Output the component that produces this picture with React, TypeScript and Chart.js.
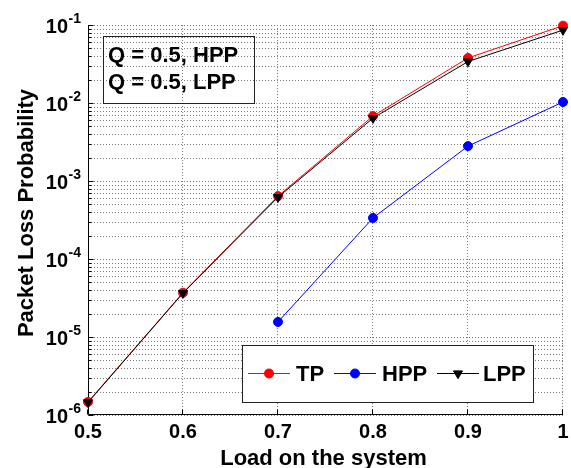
import { useEffect, useRef } from 'react';
import { Chart, registerables } from 'chart.js';

Chart.register(...registerables);

// ---- data ----
const loads = [0.5, 0.6, 0.7, 0.8, 0.9, 1.0];
const tpValues = [1.47e-6, 3.7e-5, 6.4e-4, 6.8e-3, 3.78e-2, 9.8e-2];
const hppLoads = [0.7, 0.8, 0.9, 1.0];
const hppValues = [1.56e-5, 3.36e-4, 2.8e-3, 1.03e-2];
const lppValues = [1.45e-6, 3.66e-5, 6.2e-4, 6.4e-3, 3.4e-2, 8.6e-2];
const xTicks = [0.5, 0.6, 0.7, 0.8, 0.9, 1.0];
const xTickLabels = ['0.5', '0.6', '0.7', '0.8', '0.9', '1'];
const yExponents = [-6, -5, -4, -3, -2, -1];
const seriesNames = ['TP', 'HPP', 'LPP'];
const seriesColors = ['#ff0000', '#0000ff', '#000000'];
const annotationLines = ['Q = 0.5, HPP', 'Q = 0.5, LPP'];
const xTitle = 'Load on the system';
const yTitle = 'Packet Loss Probability';

const FONT = '"Liberation Sans", Arial, Helvetica, sans-serif';

function drawMarker(ctx: CanvasRenderingContext2D, style: string, x: number, y: number, color: string) {
  ctx.save();
  ctx.fillStyle = color;
  ctx.strokeStyle = color;
  ctx.lineWidth = 1;
  ctx.beginPath();
  if (style === 'triangle') {
    const r = 5.2;
    ctx.moveTo(x, y + r);
    ctx.lineTo(x - r * 0.866, y - r * 0.5);
    ctx.lineTo(x + r * 0.866, y - r * 0.5);
    ctx.closePath();
  } else {
    ctx.arc(x, y, 4.5, 0, Math.PI * 2);
  }
  ctx.fill();
  ctx.stroke();
  ctx.restore();
}

const matlabPlugin = {
  id: 'matlabAxes',
  beforeDraw(chart: any) {
    const { ctx, width, height } = chart;
    ctx.save();
    ctx.fillStyle = '#ffffff';
    ctx.fillRect(0, 0, width, height);
    ctx.restore();
  },
  beforeDatasetsDraw(chart: any) {
    const { ctx, chartArea: a } = chart;
    const xs = chart.scales.x;
    const ys = chart.scales.y;
    const maxV = Math.pow(10, yExponents[yExponents.length - 1]);
    ctx.save();
    // dotted grid
    ctx.strokeStyle = '#7a7a7a';
    ctx.lineWidth = 1;
    ctx.setLineDash([1, 2]);
    for (let e = yExponents[0]; e <= yExponents[yExponents.length - 1]; e++) {
      for (let k = 1; k <= 9; k++) {
        const v = k * Math.pow(10, e);
        if (v > maxV * 1.0001) break;
        const py = Math.round(ys.getPixelForValue(v)) + 0.5;
        ctx.beginPath();
        ctx.moveTo(a.left, py);
        ctx.lineTo(a.right, py);
        ctx.stroke();
      }
    }
    for (let i = 1; i < xTicks.length; i++) {
      const px = Math.round(xs.getPixelForValue(xTicks[i])) - 0.5;
      ctx.beginPath();
      ctx.moveTo(px, a.top);
      ctx.lineTo(px, a.bottom);
      ctx.stroke();
    }
    ctx.setLineDash([]);
    // axes lines (box off)
    ctx.strokeStyle = '#000000';
    const L = Math.round(a.left) + 0.5;
    const B = Math.round(a.bottom) - 0.5;
    ctx.beginPath();
    ctx.moveTo(L, a.top);
    ctx.lineTo(L, B);
    ctx.lineTo(a.right, B);
    ctx.stroke();
    // inward ticks on y
    for (let e = yExponents[0]; e <= yExponents[yExponents.length - 1]; e++) {
      for (let k = 1; k <= 9; k++) {
        const v = k * Math.pow(10, e);
        if (v > maxV * 1.0001) break;
        const py = Math.round(ys.getPixelForValue(v)) + 0.5;
        const len = k === 1 ? 5 : 3;
        ctx.beginPath();
        ctx.moveTo(L, py);
        ctx.lineTo(L + len, py);
        ctx.stroke();
      }
    }
    // inward ticks on x
    for (let i = 0; i < xTicks.length; i++) {
      const px = Math.round(xs.getPixelForValue(xTicks[i])) - 0.5;
      ctx.beginPath();
      ctx.moveTo(px, B);
      ctx.lineTo(px, B - 5);
      ctx.stroke();
    }
    // x tick labels
    ctx.fillStyle = '#000000';
    ctx.font = `bold 20px ${FONT}`;
    ctx.textAlign = 'center';
    ctx.textBaseline = 'alphabetic';
    for (let i = 0; i < xTicks.length; i++) {
      const px = xs.getPixelForValue(xTicks[i]);
      ctx.fillText(xTickLabels[i], px, a.bottom + 23);
    }
    // y tick labels with superscripts
    for (const e of yExponents) {
      const py = ys.getPixelForValue(Math.pow(10, e));
      ctx.font = `bold 20px ${FONT}`;
      ctx.textAlign = 'right';
      ctx.fillText('10', a.left - 20, py + 7.5);
      ctx.font = `bold 14px ${FONT}`;
      ctx.textAlign = 'left';
      ctx.fillText(String(e), a.left - 19.5, py - 2);
    }
    // axis titles
    ctx.font = `bold 22px ${FONT}`;
    ctx.textAlign = 'center';
    ctx.fillText(xTitle, (a.left + a.right) / 2 - 2, a.bottom + 50);
    ctx.save();
    ctx.translate(33, (a.top + a.bottom) / 2 - 7);
    ctx.rotate(-Math.PI / 2);
    ctx.fillText(yTitle, 0, 0);
    ctx.restore();
    ctx.restore();
  },
  afterDatasetsDraw(chart: any) {
    const { ctx } = chart;
    ctx.save();
    // annotation box (transparent)
    ctx.strokeStyle = '#222222';
    ctx.lineWidth = 1;
    ctx.strokeRect(103.5, 36.5, 151, 67);
    ctx.fillStyle = '#000000';
    ctx.font = `bold 22px ${FONT}`;
    ctx.textAlign = 'left';
    ctx.textBaseline = 'alphabetic';
    ctx.fillText(annotationLines[0], 108, 62);
    ctx.fillText(annotationLines[1], 108, 89);
    // legend box
    ctx.fillStyle = '#ffffff';
    ctx.fillRect(242.5, 345.5, 291, 57);
    ctx.strokeRect(242.5, 345.5, 291, 57);
    const lineStarts = [248, 334, 437];
    const textStarts = [296, 382, 483];
    const styles = ['circle', 'circle', 'triangle'];
    const cy = 373.5;
    for (let i = 0; i < seriesNames.length; i++) {
      ctx.strokeStyle = seriesColors[i];
      ctx.beginPath();
      ctx.moveTo(lineStarts[i], cy);
      ctx.lineTo(lineStarts[i] + 42, cy);
      ctx.stroke();
      drawMarker(ctx, styles[i], lineStarts[i] + 21, cy, seriesColors[i]);
      ctx.fillStyle = '#000000';
      ctx.font = `bold 22px ${FONT}`;
      ctx.fillText(seriesNames[i], textStarts[i], 381);
    }
    ctx.restore();
  },
};

export default function App() {
  const canvasRef = useRef<HTMLCanvasElement | null>(null);

  useEffect(() => {
    document.body.style.margin = '0';
    const canvas = canvasRef.current;
    if (!canvas) return;
    const tp = loads.map((x, i) => ({ x, y: tpValues[i] }));
    const hpp = hppLoads.map((x, i) => ({ x, y: hppValues[i] }));
    const lpp = loads.map((x, i) => ({ x, y: lppValues[i] }));
    const chart = new Chart(canvas, {
      type: 'scatter',
      data: {
        datasets: [
          {
            label: seriesNames[0], data: tp, showLine: true,
            borderColor: seriesColors[0], backgroundColor: seriesColors[0],
            borderWidth: 1, pointRadius: 4.5, pointStyle: 'circle', pointBorderWidth: 1,
            order: 3, clip: false,
          },
          {
            label: seriesNames[1], data: hpp, showLine: true,
            borderColor: seriesColors[1], backgroundColor: seriesColors[1],
            borderWidth: 1, pointRadius: 4.5, pointStyle: 'circle', pointBorderWidth: 1,
            order: 2, clip: false,
          },
          {
            label: seriesNames[2], data: lpp, showLine: true,
            borderColor: seriesColors[2], backgroundColor: seriesColors[2],
            borderWidth: 1, pointRadius: 5.2, pointStyle: 'triangle', rotation: 180, pointBorderWidth: 1,
            order: 1, clip: false,
          },
        ] as any,
      },
      options: {
        responsive: false,
        animation: false,
        events: [],
        layout: { padding: { left: 88, right: 8, top: 25, bottom: 53 } },
        scales: {
          x: { type: 'linear', min: xTicks[0], max: xTicks[xTicks.length - 1], display: false },
          y: {
            type: 'logarithmic',
            min: Math.pow(10, yExponents[0]),
            max: Math.pow(10, yExponents[yExponents.length - 1]),
            display: false,
          },
        },
        plugins: { legend: { display: false }, tooltip: { enabled: false } },
      },
      plugins: [matlabPlugin],
    });
    return () => chart.destroy();
  }, []);

  return (
    <div style={{ position: 'absolute', left: 0, top: 0, width: 571, height: 468 }}>
      <canvas ref={canvasRef} width={571} height={468} style={{ width: 571, height: 468 }} />
    </div>
  );
}
